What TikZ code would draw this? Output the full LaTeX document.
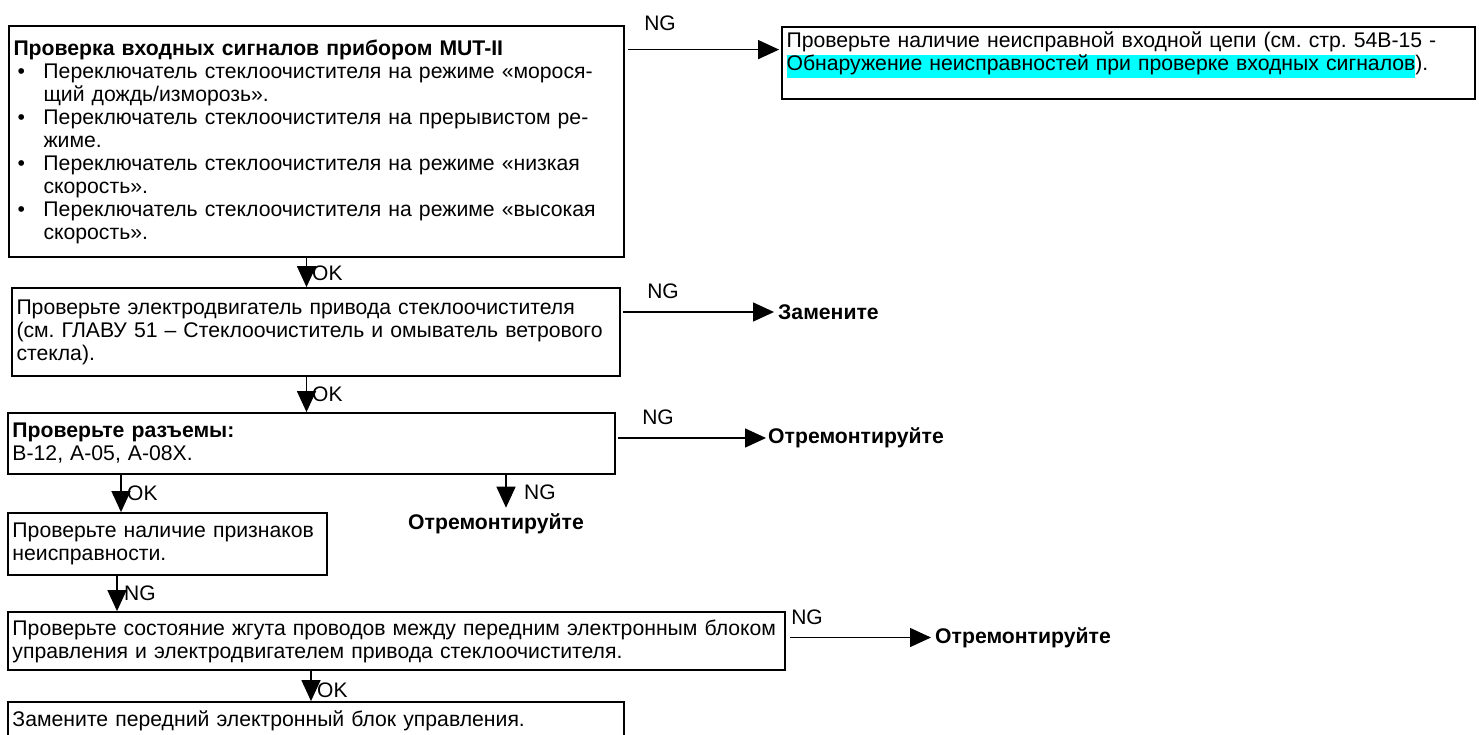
\documentclass[tikz,border=0pt]{standalone}
\usepackage{fontspec}
\setmainfont{Liberation Sans}
\usetikzlibrary{arrows.meta}
\definecolor{hlcyan}{RGB}{0,255,255}
\newcommand\mybul{\hspace*{4pt}\makebox[26pt][l]{•}}
\newcommand\myind{\hspace*{30pt}}
\newcommand\hlc[1]{{\fboxsep=0pt\colorbox{hlcyan}{\strut #1}}}
\frenchspacing
\begin{document}
\begin{tikzpicture}[x=1pt,y=-1pt,
  box/.style={draw,line width=1.8pt,inner xsep=4.5pt,inner ysep=0pt,align=left,
    font=\fontsize{21.2}{23}\selectfont\frenchspacing},
  lbl/.style={inner sep=0pt,font=\fontsize{21}{23}\selectfont},
  res/.style={inner sep=0pt,font=\fontsize{21.2}{23}\selectfont\bfseries},
  arr/.style={line width=1.4pt,-{Triangle[length=21pt,width=19pt]}}]
\useasboundingbox (0,0) rectangle (1479,734);
\clip (0,0) rectangle (1479,734);

% boxes
\node[box,minimum width=615pt,minimum height=231pt,text width=606pt] (b1) at (316.5,141.5)
{{\bfseries Проверка входных сигналов прибором MUT-II}\\
\mybul Переключатель стеклоочистителя на режиме «морося-\\
\myind щий дождь/изморозь».\\
\mybul Переключатель стеклоочистителя на прерывистом ре-\\
\myind жиме.\\
\mybul Переключатель стеклоочистителя на режиме «низкая\\
\myind скорость».\\
\mybul Переключатель стеклоочистителя на режиме «высокая\\
\myind скорость».};

\node[box,minimum width=693pt,minimum height=72pt,text width=684pt] (t1) at (1128.5,63)
{Проверьте наличие неисправной входной цепи (см. стр. 54B-15 -\\
\hlc{Обнаружение неисправностей при проверке входных сигналов}).\\
\mbox{}};

\node[box,minimum width=608pt,minimum height=88pt,text width=599pt] (b2) at (316,332)
{Проверьте электродвигатель привода стеклоочистителя\\
(см. ГЛАВУ 51 – Стеклоочиститель и омыватель ветрового\\
стекла).};

\node[box,minimum width=607pt,minimum height=61pt,text width=598pt] (b3) at (311.5,443.5)
{{\bfseries Проверьте разъемы:}\\
B-12, A-05, A-08X.};

\node[box,minimum width=319pt,minimum height=62pt,text width=310pt] (b4) at (167.5,544)
{Проверьте наличие признаков\\
неисправности.};

\node[box,minimum width=777pt,minimum height=58pt,text width=768pt] (b5) at (396.5,641)
{Проверьте состояние жгута проводов между передним электронным блоком\\
управления и электродвигателем привода стеклоочистителя.};

\node[box,minimum width=616pt,minimum height=38pt,text width=607pt] (b6) at (316,721)
{Замените передний электронный блок управления.};

% results
\node[res,anchor=west] (r2) at (778,312) {Замените};
\node[res,anchor=west] (r3) at (768,438) {Отремонтируйте};
\node[res] (r4) at (496,524) {Отремонтируйте};
\node[res,anchor=west] (r5) at (935,637.5) {Отремонтируйте};

% horizontal connectors
\coordinate (s1) at ([xshift=3pt,yshift=-24.5pt]b1.north east);
\draw[arr] (s1) -- ([xshift=-2pt]s1 -| t1.west);
\draw[arr] ([xshift=2pt]b2.east |- r2.west) -- ([xshift=-4pt]r2.west);
\draw[arr] ([xshift=2pt]b3.east |- r3.west) -- ([xshift=-2pt]r3.west);
\draw[arr] ([xshift=4pt]b5.east |- r5.west) -- ([xshift=-4pt]r5.west);

% vertical connectors
\draw[arr] ([xshift=-10pt]b1.south) -- ([xshift=-10pt]b1.south |- b2.north);
\draw[arr] ([xshift=-9.5pt]b2.south) -- ([xshift=-9.5pt]b2.south |- b3.north);
\draw[arr] ([xshift=-190.5pt]b3.south) -- ([xshift=-190.5pt]b3.south |- b4.north);
\draw[arr,shorten >=6pt] ([xshift=194.5pt]b3.south) -- ([xshift=194.5pt]b3.south |- r4.north);
\draw[arr] ([xshift=-50.5pt]b4.south) -- ([xshift=-50.5pt]b4.south |- b5.north);
\draw[arr] ([xshift=-85.5pt]b5.south) -- ([xshift=-85.5pt]b5.south |- b6.north);

% labels
\node[lbl] (n1) at (660,23) {NG};
\node[lbl] (n2) at (663,291) {NG};
\node[lbl] (n3) at (658,417) {NG};
\node[lbl] (n5) at (807,617) {NG};
\node[lbl,anchor=west] (k1) at (312,273) {OK};
\node[lbl,anchor=west] (k2) at (312,394) {OK};
\node[lbl,anchor=west] (k3) at (127,493) {OK};
\node[lbl,anchor=west] (n4) at (524,492) {NG};
\node[lbl,anchor=west] (n6) at (124,593) {NG};
\node[lbl,anchor=west] (k4) at (317,690) {OK};
\end{tikzpicture}
\end{document}
